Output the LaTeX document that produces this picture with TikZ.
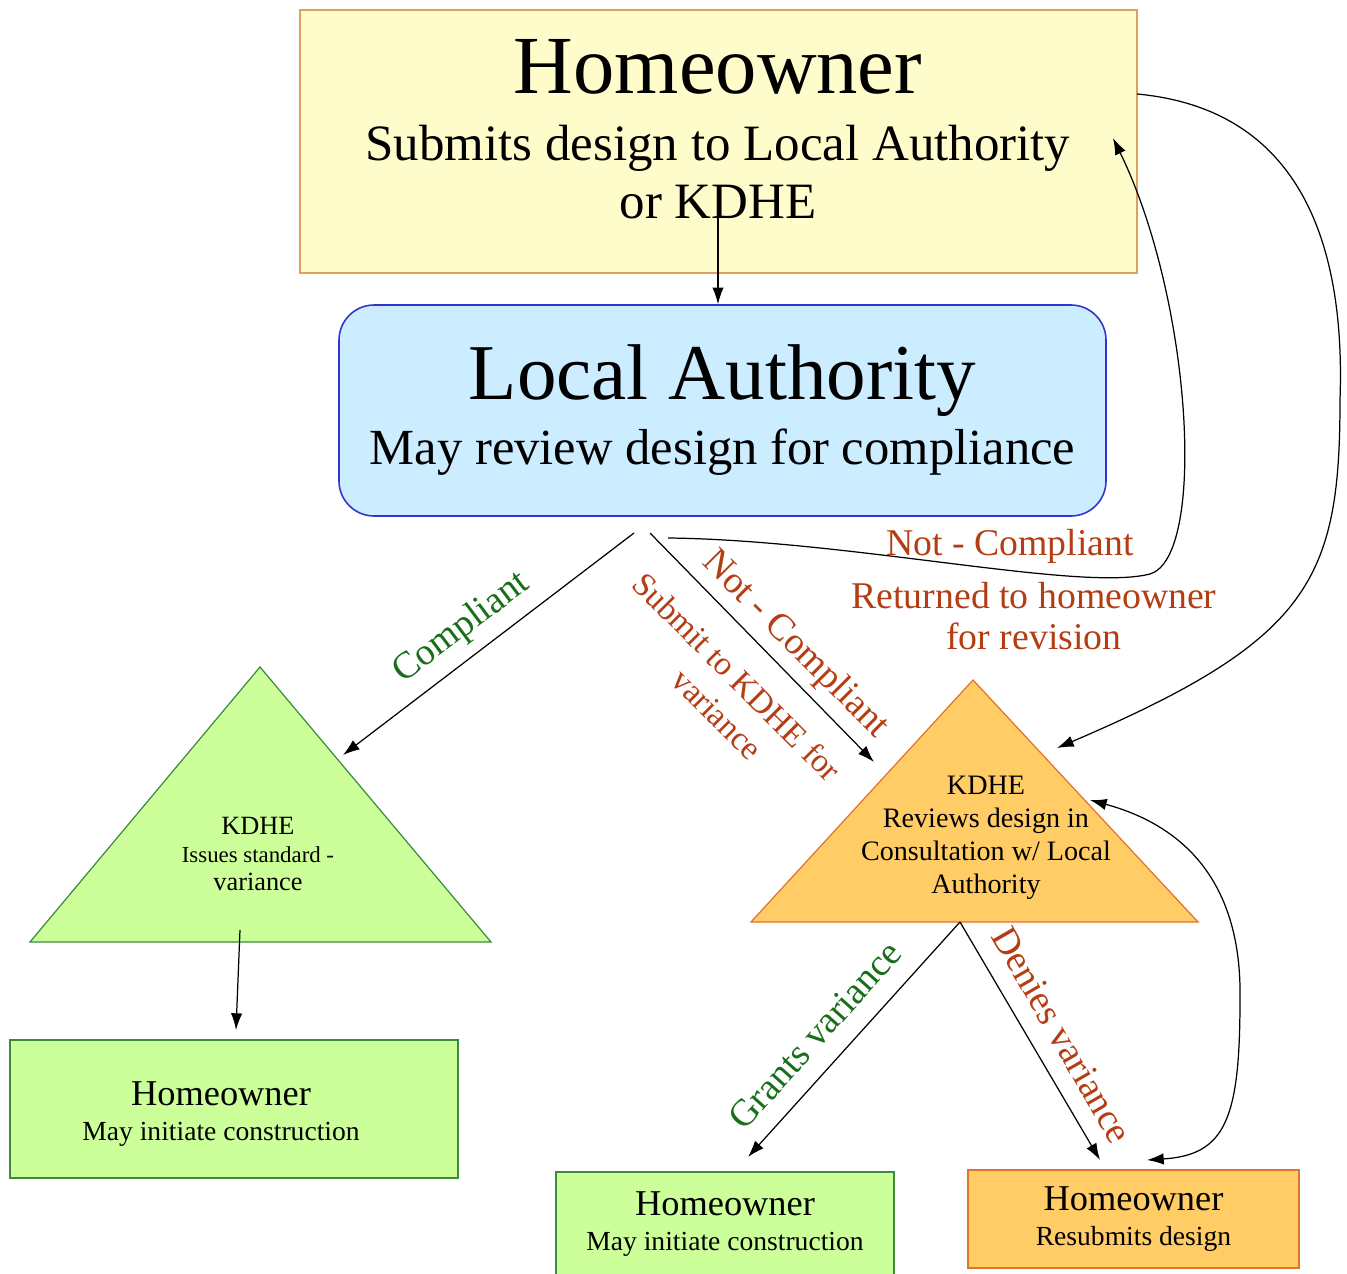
\documentclass[tikz,border=0pt]{standalone}
\usepackage{fontspec}
\setmainfont{Liberation Serif}
\usetikzlibrary{arrows.meta}

\definecolor{hwfill}{RGB}{255,252,204}
\definecolor{hwedge}{RGB}{222,160,90}
\definecolor{lafill}{RGB}{204,236,255}
\definecolor{laedge}{RGB}{51,51,204}
\definecolor{grfill}{RGB}{204,255,153}
\definecolor{gredge}{RGB}{60,140,60}
\definecolor{orfill}{RGB}{255,204,102}
\definecolor{oredge}{RGB}{225,115,45}
\definecolor{grtext}{RGB}{25,110,25}
\definecolor{ortext}{RGB}{180,62,20}

\begin{document}
\begin{tikzpicture}[x=0.02cm, y=-0.02cm, >={Latex[length=9.5pt,width=6.5pt]}, line width=0.7pt,
    box/.style={draw, rectangle, line width=0.9pt, align=center, inner sep=0pt},
    smalltxt/.style={align=center, font=\fontsize{15.7}{19.5}\selectfont},
    lblgreen/.style={grtext, font=\fontsize{21.5}{24}\selectfont},
    lblorange/.style={ortext, font=\fontsize{21.5}{24}\selectfont, align=center}]

\useasboundingbox (0,0) rectangle (1347,1274);

% boxes
\node[box, draw=hwedge, fill=hwfill, minimum width=837*0.02cm, minimum height=263*0.02cm] (hw) at (718.5,141.5) {};
\node[align=center, font=\fontsize{29}{38}\selectfont] (hw-txt) at (718,129.5)
    {{\fontsize{47}{38}\selectfont Homeowner}\\ Submits design to Local Authority\\[-5pt] or KDHE};

\node[box, draw=laedge, fill=lafill, rounded corners=20pt, minimum width=767*0.02cm, minimum height=211*0.02cm,
    font=\fontsize{28.8}{37}\selectfont] (la) at (722.5,410.5)
    {{\fontsize{45}{37}\selectfont Local Authority}\\ May review design for compliance};

% triangles
\coordinate (tl-top) at (260,667);
\coordinate (tl-right) at (491,942);
\coordinate (tl-left) at (30,942);
\draw[draw=gredge, fill=grfill] (tl-top) -- (tl-right) -- (tl-left) -- cycle;
\node[align=center, font=\fontsize{15}{16.2}\selectfont] (kdhe-l) at (258,854)
    {KDHE\\ {\fontsize{13}{16.2}\selectfont Issues standard -}\\ variance};

\coordinate (tr-top) at (973,680);
\coordinate (tr-right) at (1198,922);
\coordinate (tr-left) at (751,922);
\draw[draw=oredge, fill=orfill] (tr-top) -- (tr-right) -- (tr-left) -- cycle;
\node[align=center, font=\fontsize{16}{18.7}\selectfont] (kdhe-r) at (986,838)
    {KDHE\\ Reviews design in\\ Consultation w/ Local\\ Authority};

% bottom boxes
\node[box, draw=gredge, fill=grfill, minimum width=448*0.02cm, minimum height=138*0.02cm] (ho-l) at (234,1109) {};
\node[smalltxt] (ho-l-txt) at (221,1114)
    {{\fontsize{20.7}{19.5}\selectfont Homeowner}\\ May initiate construction};
\node[box, draw=gredge, fill=grfill, minimum width=338*0.02cm, minimum height=104*0.02cm, smalltxt] (ho-m) at (725,1224)
    {{\fontsize{20.7}{19.5}\selectfont Homeowner}\\ May initiate construction};
\node[box, draw=oredge, fill=orfill, minimum width=331*0.02cm, minimum height=98*0.02cm, smalltxt] (ho-r) at (1133.5,1219)
    {{\fontsize{20.7}{19.5}\selectfont Homeowner}\\ Resubmits design};

% connector ends
\coordinate (hw-out) at (718,215);
\coordinate (hw-in) at (1113,138);
\coordinate (hw-r) at (1137,94);
\coordinate (la-c) at (634,533);
\coordinate (la-n) at (650,533);
\coordinate (la-r) at (668,538);
\coordinate (tl-in) at (343,755);
\coordinate (tl-out) at (240,930);
\coordinate (tr-in1) at (874,762);
\coordinate (tr-in2) at (1057,748);
\coordinate (tr-out) at (960,922);
\coordinate (tr-r) at (1090,800);
\coordinate (ho-l-in) at (236,1030);
\coordinate (ho-m-in) at (748,1157);
\coordinate (ho-r-in) at (1100,1160);
\coordinate (ho-r-in2) at (1147,1160);

% connectors
\draw[->] (hw-out) -- (hw-out |- la.north);
\draw[->] (la-c) -- (tl-in);
\draw[->] (la-n) -- (tr-in1);
\draw[->] (la-r) .. controls (850,540) and (1080,592) .. (1150,574)
    .. controls (1207,557) and (1192,300) .. (hw-in);
\draw[->] (hw-r) .. controls (1310,110) and (1345,260) .. (1340,400)
    .. controls (1340,580) and (1310,640) .. (tr-in2);
\draw[->] (tl-out) -- (ho-l-in);
\draw[->] (tr-out) -- (ho-m-in);
\draw[->] (tr-out) -- (ho-r-in);
\draw[<->] (tr-r) .. controls (1200,830) and (1242,900) .. (1240,1000)
    .. controls (1240,1120) and (1225,1155) .. (ho-r-in2);

% labels
\node[lblgreen, rotate=37] (lb-comp) at (462,628) {Compliant};
\node[lblorange, rotate=-45] (lb-notc) at (795,645) {Not - Compliant};
\node[lblorange, rotate=-45, font=\fontsize{19}{23}\selectfont] (lb-sub) at (723,691) {Submit to KDHE for\\ \hspace*{14pt}variance};
\node[lblorange] (lb-notc2) at (1010,546) {Not - Compliant};
\node[lblorange] (lb-ret) at (1034,616) {Returned to homeowner\\[-1pt] for revision};
\node[lblgreen, rotate=48] (lb-grant) at (815,1035) {Grants variance};
\node[lblorange, rotate=-60] (lb-deny) at (1062,1035) {Denies variance};
\end{tikzpicture}
\end{document}
